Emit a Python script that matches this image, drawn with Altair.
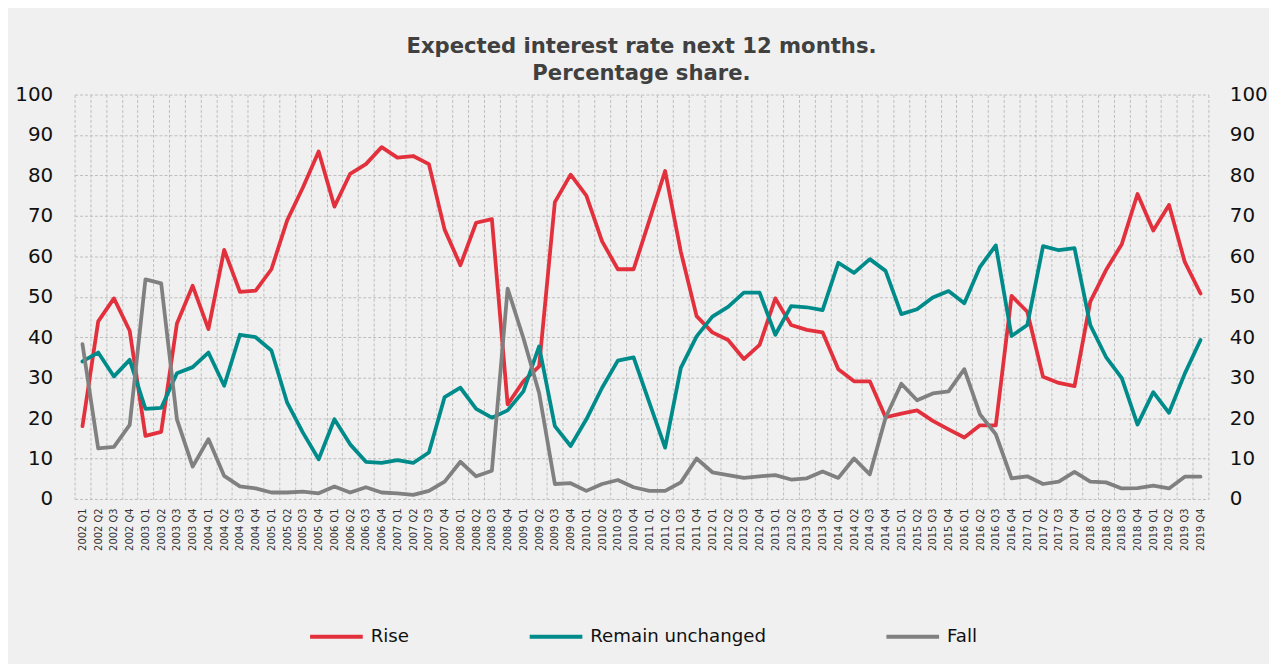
import altair as alt
import pandas as pd

years = list(range(2002, 2020))
quarters = [f"{y} Q{q}" for y in years for q in (1, 2, 3, 4)]

series_names = ["Rise", "Remain unchanged", "Fall"]
series_colors = ["#e3303d", "#008b8b", "#808080"]

rise = [18.0, 43.9, 49.6, 41.6,
        15.6, 16.6, 43.4, 52.7,
        42.0, 61.6, 51.2, 51.5,
        56.8, 68.9, 77.0, 85.9,
        72.3, 80.4, 82.8, 87.0,
        84.4, 84.8, 82.8, 66.6,
        57.8, 68.3, 69.2, 23.4,
        29.1, 32.8, 73.4, 80.2,
        75.0, 63.7, 56.8, 56.8,
        68.9, 81.1, 61.1, 45.2,
        41.2, 39.3, 34.6, 38.1,
        49.6, 43.0, 41.8, 41.2,
        32.1, 29.1, 29.1, 20.2,
        21.1, 21.9, 19.3, 17.2,
        15.2, 18.2, 18.2, 50.2,
        46.3, 30.2, 28.7, 27.9,
        48.8, 56.6, 63.0, 75.4,
        66.4, 72.7, 58.6, 50.8]

remain = [34.0, 36.2, 30.3, 34.4,
          22.3, 22.5, 31.1, 32.6,
          36.2, 28.0, 40.6, 40.0,
          36.7, 23.8, 16.4, 9.8,
          19.7, 13.5, 9.2, 8.9,
          9.6, 8.9, 11.5, 25.2,
          27.5, 22.3, 20.1, 21.9,
          26.6, 37.7, 18.0, 13.1,
          19.7, 27.5, 34.2, 35.0,
          23.8, 12.7, 32.4, 40.2,
          45.1, 47.5, 51.0, 51.0,
          40.6, 47.7, 47.4, 46.7,
          58.4, 55.9, 59.3, 56.4,
          45.7, 46.9, 49.8, 51.4,
          48.4, 57.4, 62.7, 40.3,
          43.0, 62.5, 61.5, 62.0,
          43.0, 35.1, 29.9, 18.4,
          26.4, 21.3, 31.0, 39.3]

fall = [38.3, 12.5, 12.9, 18.3,
        54.3, 53.3, 19.7, 8.0,
        14.8, 5.7, 3.1, 2.6,
        1.6, 1.6, 1.8, 1.4,
        3.1, 1.6, 2.9, 1.6,
        1.4, 1.0, 2.0, 4.3,
        9.2, 5.6, 7.0, 52.0,
        39.8, 26.2, 3.7, 3.9,
        2.0, 3.7, 4.7, 2.9,
        2.0, 2.0, 4.1, 10.0,
        6.6, 5.9, 5.2, 5.6,
        5.9, 4.8, 5.1, 6.8,
        5.2, 10.0, 6.1, 20.1,
        28.5, 24.4, 26.1, 26.6,
        32.1, 20.9, 16.0, 5.1,
        5.6, 3.7, 4.3, 6.7,
        4.3, 4.1, 2.6, 2.7,
        3.3, 2.6, 5.5, 5.5]

y_ticks = list(range(0, 101, 10))

rows = []
for name, vals in zip(series_names, [rise, remain, fall]):
    for q, v in zip(quarters, vals):
        rows.append({"quarter": q, "series": name, "value": v})
df = pd.DataFrame(rows)

FONT = "DejaVu Sans"
GRID = "#bdbdbd"

x_enc = alt.X(
    "quarter:N",
    sort=quarters,
    scale=alt.Scale(type="band", paddingInner=0, paddingOuter=0),
    axis=alt.Axis(
        title=None, labelAngle=-90, labelFontSize=10, labelFont=FONT,
        labelColor="#333333", tickBand="extent", grid=True, gridDash=[3, 2],
        gridColor=GRID, gridWidth=1, ticks=False, domain=False, labelPadding=9,
    ),
)

lines = alt.Chart(df).mark_line(strokeWidth=3.8, strokeJoin="round", strokeCap="round").encode(
    x=x_enc,
    y=alt.Y(
        "value:Q",
        scale=alt.Scale(domain=[0, 100]),
        axis=alt.Axis(
            values=y_ticks, title=None, orient="left", grid=True, gridDash=[3, 2],
            gridColor=GRID, tickSize=0, ticks=False, labelPadding=22, labelFontSize=20,
            labelFont=FONT, labelColor="#111111", domain=False,
        ),
    ),
    color=alt.Color(
        "series:N",
        sort=series_names,
        scale=alt.Scale(domain=series_names, range=series_colors),
        legend=alt.Legend(
            title=None, orient="none", legendX=235, legendY=517, direction="horizontal",
            symbolType="stroke", symbolSize=2809, symbolStrokeWidth=4,
            labelFontSize=18.3, labelFont=FONT, labelColor="#111111", labelLimit=0,
            columnPadding=113, labelOffset=6, padding=0,
        ),
    ),
    detail="series:N",
)

right_axis = alt.Chart(df).mark_point(opacity=0).encode(
    x=x_enc,
    y=alt.Y(
        "value:Q",
        scale=alt.Scale(domain=[0, 100]),
        axis=alt.Axis(
            values=y_ticks, title=None, orient="right", grid=False,
            tickSize=0, ticks=False, labelPadding=21, labelFontSize=20,
            labelFont=FONT, labelColor="#111111", domain=False,
        ),
    ),
)

chart = alt.layer(lines, right_axis).resolve_axis(y="independent").properties(
    width=1141,
    height=407,
    padding={"left": 67, "top": 85, "right": 61, "bottom": 164},
    autosize=alt.AutoSizeParams(type="none"),
    background="#f0f0f0",
    title=alt.TitleParams(
        ["Expected interest rate next 12 months.", "Percentage share."],
        fontSize=21.3, font=FONT, fontWeight="bold", color="#404040",
        anchor="middle", offset=0, lineHeight=27.5,
    ),
).configure_view(stroke=None)

chart.save("out.html", embed_options={"renderer": "svg", "actions": False})
